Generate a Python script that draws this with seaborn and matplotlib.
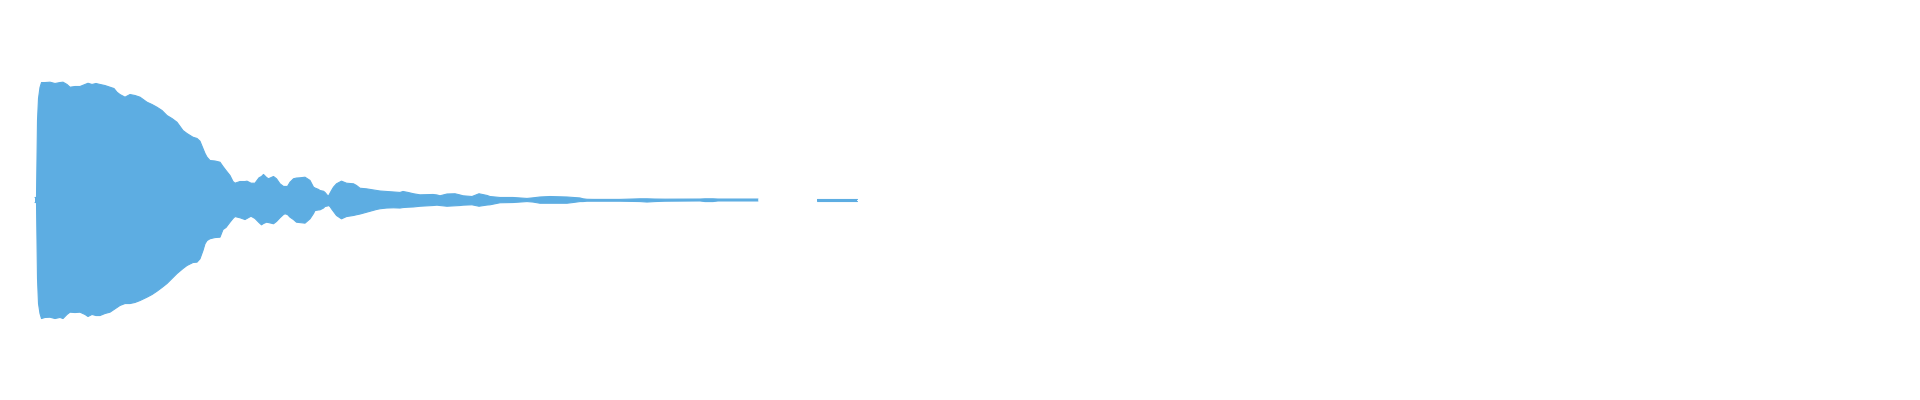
import numpy as np
import pandas as pd
import matplotlib
matplotlib.use("Agg")
import matplotlib.pyplot as plt
import seaborn as sns

# waveform envelope (time in ms, amplitude normalised to full scale)
time_ms = [
    -4, -1, 1, 3, 6, 9, 16, 26, 36, 46, 52, 60, 66, 76, 86, 96, 102, 110, 118, 126,
    136, 146, 154, 160, 166, 176, 186, 196, 206, 220, 230, 240, 250, 260, 270, 280,
    292, 300, 312, 320, 326, 332, 336, 340, 346, 356, 366, 372, 378, 386, 392, 396,
    406, 416, 420, 428, 436, 440, 444, 449, 453, 459, 463, 473, 479, 486, 493, 496,
    501, 506, 513, 519, 526, 536, 546, 553, 556, 563, 566, 573, 576, 581, 583, 586,
    589, 593, 599, 609, 619, 633, 639, 646, 659, 679, 686, 699, 713, 726, 732, 742,
    753, 766, 792, 800, 806, 820, 836, 846, 852, 870, 884, 900, 906, 926, 952, 980,
    992, 1006, 1026, 1060, 1072, 1086, 1092, 1100, 1112, 1166, 1206, 1220, 1236, 1256,
    1326, 1336, 1352, 1362, 1442, 1500, 1560, 1640,
]
env_upper = [
    0.021, 0.021, 0.663, 0.846, 0.938, 0.979, 0.979, 0.982, 0.971, 0.979, 0.982, 0.963,
    0.940, 0.946, 0.946, 0.963, 0.973, 0.963, 0.971, 0.963, 0.954, 0.940, 0.929, 0.898,
    0.879, 0.857, 0.879, 0.871, 0.857, 0.815, 0.796, 0.773, 0.746, 0.704, 0.679, 0.648,
    0.579, 0.554, 0.523, 0.513, 0.490, 0.429, 0.388, 0.357, 0.329, 0.325, 0.315, 0.279,
    0.246, 0.204, 0.154, 0.140, 0.154, 0.154, 0.157, 0.140, 0.140, 0.163, 0.185, 0.196,
    0.213, 0.188, 0.177, 0.196, 0.177, 0.135, 0.113, 0.113, 0.113, 0.148, 0.177, 0.183,
    0.185, 0.190, 0.163, 0.107, 0.100, 0.088, 0.079, 0.073, 0.063, 0.038, 0.033, 0.057,
    0.079, 0.107, 0.135, 0.157, 0.140, 0.135, 0.121, 0.098, 0.093, 0.079, 0.075, 0.071,
    0.067, 0.063, 0.071, 0.063, 0.052, 0.043, 0.046, 0.042, 0.035, 0.050, 0.052, 0.042,
    0.035, 0.029, 0.052, 0.038, 0.029, 0.021, 0.021, 0.013, 0.018, 0.025, 0.029, 0.025,
    0.021, 0.017, 0.010, 0.006, 0.005, 0.005, 0.010, 0.010, 0.008, 0.007, 0.008, 0.010,
    0.010, 0.008, 0.008, np.nan, 0.008, 0.008,
]
env_lower = [
    -0.021, -0.021, -0.654, -0.863, -0.946, -0.988, -0.979, -0.977, -0.988, -0.979,
    -0.988, -0.954, -0.935, -0.938, -0.935, -0.954, -0.971, -0.954, -0.963, -0.963,
    -0.946, -0.935, -0.913, -0.896, -0.879, -0.863, -0.863, -0.854, -0.838, -0.810,
    -0.788, -0.760, -0.729, -0.696, -0.654, -0.613, -0.571, -0.546, -0.521, -0.518,
    -0.490, -0.421, -0.365, -0.338, -0.323, -0.313, -0.310, -0.246, -0.229, -0.185,
    -0.154, -0.138, -0.148, -0.163, -0.154, -0.135, -0.154, -0.171, -0.188, -0.207,
    -0.196, -0.185, -0.188, -0.198, -0.179, -0.148, -0.121, -0.115, -0.121, -0.143,
    -0.163, -0.185, -0.188, -0.193, -0.157, -0.113, -0.088, -0.083, -0.082, -0.067,
    -0.054, -0.050, -0.046, -0.054, -0.073, -0.096, -0.129, -0.157, -0.138, -0.129,
    -0.123, -0.117, -0.102, -0.079, -0.073, -0.067, -0.065, -0.067, -0.063, -0.060,
    -0.058, -0.052, -0.046, -0.043, -0.046, -0.052, -0.048, -0.046, -0.043, -0.040,
    -0.052, -0.042, -0.040, -0.023, -0.021, -0.013, -0.017, -0.027, -0.027, -0.027,
    -0.021, -0.013, -0.013, -0.010, -0.010, -0.010, -0.013, -0.017, -0.013, -0.010,
    -0.008, -0.013, -0.013, -0.008, -0.008, np.nan, -0.008, -0.008,
]

wave_color = "#5DADE2"

df = pd.DataFrame({"time_ms": time_ms, "upper": env_upper, "lower": env_lower})
# silent stretch splits the signal into two pieces
df["segment"] = df["upper"].isna().cumsum()
edges = df.dropna()

sns.set_theme(style="white")
fig = plt.figure(figsize=(19.2, 4), dpi=100)
ax = fig.add_axes([0, 0, 1, 1])

ax.fill_between(df["time_ms"], df["lower"], df["upper"], color=wave_color, linewidth=0)
for col in ["upper", "lower"]:
    sns.lineplot(data=edges, x="time_ms", y=col, units="segment", estimator=None,
                 ax=ax, color=wave_color, linewidth=0.8)

ax.set_xlim(-74, 3766)
ax.set_ylim(-1.667, 1.667)
ax.axis("off")

fig.savefig("out.png", dpi=100, facecolor="white")
